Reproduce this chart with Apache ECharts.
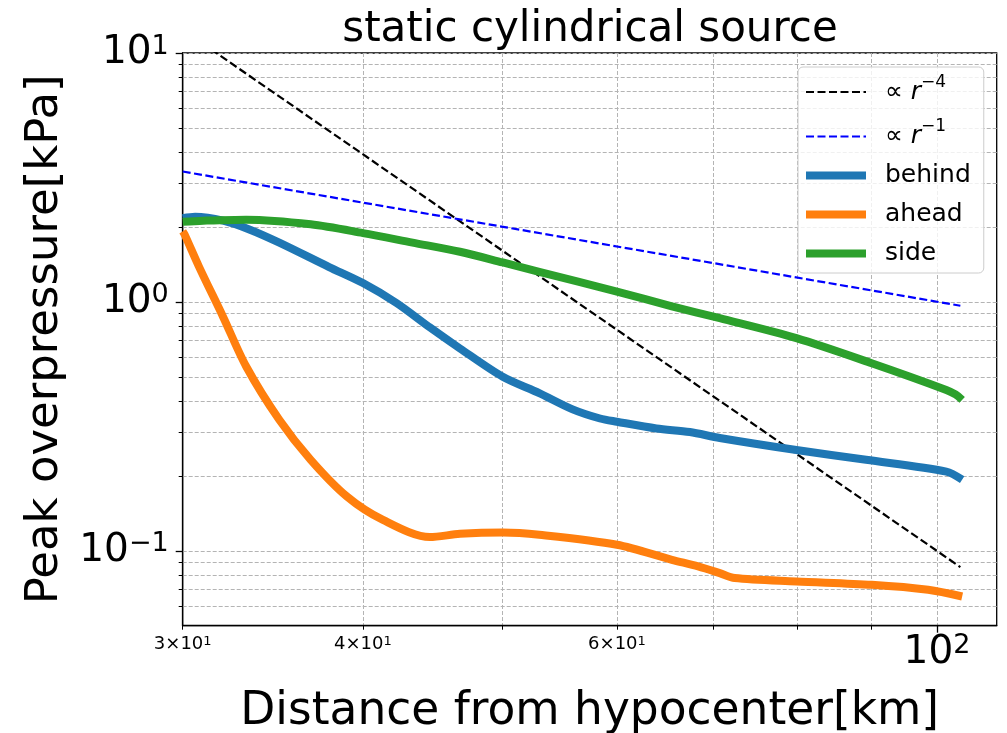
<!DOCTYPE html>
<html>
<head>
<meta charset="UTF-8">
<title>static cylindrical source</title>
<script src="https://cdn.jsdelivr.net/npm/echarts@6/dist/echarts.min.js"></script>
<style>
  html, body { margin: 0; padding: 0; background: #fff; }
  #chart { width: 1007px; height: 733px; }
</style>
</head>
<body>
<div id="chart"></div>
<script>
// values (distance km, overpressure kPa)
var behindX = [30, 30.6, 32.0, 33.4, 35.0, 37.9, 40.0, 42.2, 44.5, 46.7, 50.0, 53.0, 55.9, 58.4, 60.0, 63.9, 67.4, 70.7, 79.9, 89.3, 101.5, 104.1];
var behindY = [2.17, 2.20, 2.12, 1.95, 1.73, 1.38, 1.19, 0.99, 0.79, 0.65, 0.50, 0.43, 0.37, 0.34, 0.33, 0.31, 0.30, 0.284, 0.254, 0.232, 0.208, 0.193];

var aheadX = [30, 30.1, 30.8, 32.0, 33.2, 35.0, 36.8, 39.0, 41.3, 44.5, 46.7, 50.0, 53.0, 60.0, 65.5, 68.3, 70.7, 72.4, 79.9, 90.1, 98.6, 104.1];
var aheadY = [1.92, 1.86, 1.38, 0.87, 0.55, 0.336, 0.232, 0.165, 0.133, 0.1135, 0.117, 0.1185, 0.116, 0.1057, 0.092, 0.0865, 0.0813, 0.0777, 0.0753, 0.0730, 0.0697, 0.0655];

var sideX = [30, 31, 33.2, 36.8, 40, 43.3, 46.7, 50, 53, 60, 65.5, 70.7, 79.9, 90.1, 101.5, 103, 104.1];
var sideY = [2.10, 2.12, 2.14, 2.05, 1.89, 1.73, 1.59, 1.44, 1.32, 1.10, 0.96, 0.86, 0.715, 0.567, 0.443, 0.425, 0.404];

var r4X = [30, 103.8];
var r4Y = [12.4, 0.086];
var r1X = [30, 103.8];
var r1Y = [3.34, 0.965];

var xMinorTicks = [30, 40, 50, 60, 70, 80, 90];
var xMinorLabels = [30, 40, 60];
var xMajorTicks = [100];
var yMinorTicks = [0.06, 0.07, 0.08, 0.09, 0.2, 0.3, 0.4, 0.5, 0.6, 0.7, 0.8, 0.9, 2, 3, 4, 5, 6, 7, 8, 9];
var yMajorTicks = [0.1, 1, 10];

function pairs(xs, ys) {
    return xs.map(function (x, i) { return [x, ys[i]]; });
}
function expText(v) {
    var e = Math.round(Math.log10(v));
    return e < 0 ? '\u2212' + (-e) : String(e);
}

var font = 'DejaVu Sans';
var gridLine = { show: true, lineStyle: { color: '#b4b4b4', width: 1, type: [4, 2] } };
var bigRich = {
    b: { fontSize: 39, lineHeight: 40, fontFamily: font, color: '#000' },
    s: { fontSize: 27, lineHeight: 24, verticalAlign: 'top', fontFamily: font, color: '#000' }
};
var smallRich = {
    n: { fontSize: 18, lineHeight: 20, fontFamily: font, color: '#000' },
    s: { fontSize: 13, lineHeight: 13, verticalAlign: 'top', fontFamily: font, color: '#000' }
};
var legendNames = {
    'r4': '{p|\u221d }{i|r}{s|\u22124}',
    'r1': '{p|\u221d }{i|r}{s|\u22121}'
};
var hideDot = { opacity: 0 };

var chart = echarts.init(document.getElementById('chart'));
chart.setOption({
    animation: false,
    backgroundColor: '#fff',
    textStyle: { fontFamily: font },
    title: {
        text: 'static cylindrical source',
        left: 585, top: 4, textAlign: 'center',
        textStyle: { fontSize: 42, fontWeight: 'normal', color: '#000', fontFamily: font }
    },
    grid: {
        left: 182.7, top: 53, right: 10.3, bottom: 107.3,
        containLabel: false, outerBoundsMode: 'none',
        show: true, borderColor: '#000', borderWidth: 1.3, backgroundColor: 'transparent'
    },
    legend: {
        left: 798, top: 67, orient: 'vertical',
        itemWidth: 60, itemHeight: 8, itemGap: 14,
        padding: [7, 13, 7, 7],
        backgroundColor: 'rgba(255,255,255,0.8)',
        borderColor: '#cccccc', borderWidth: 1, borderRadius: 5,
        selectedMode: false,
        data: [
            { name: 'r4', itemStyle: hideDot },
            { name: 'r1', itemStyle: hideDot },
            { name: 'behind', icon: 'rect' },
            { name: 'ahead', icon: 'rect' },
            { name: 'side', icon: 'rect' }
        ],
        formatter: function (name) {
            return legendNames[name] || '{t|' + name + '}';
        },
        textStyle: {
            padding: [0, 0, 0, 14],
            rich: {
                t: { fontSize: 25, lineHeight: 36, fontFamily: font, color: '#000' },
                p: { fontSize: 25, lineHeight: 36, fontFamily: font, color: '#000' },
                i: { fontSize: 25, lineHeight: 36, fontStyle: 'italic', fontFamily: font, color: '#000' },
                s: { fontSize: 17, lineHeight: 22, verticalAlign: 'top', fontFamily: font, color: '#000' }
            }
        }
    },
    xAxis: [{
        type: 'log', min: 30, max: 110, position: 'bottom',
        name: 'Distance from hypocenter[km]', nameLocation: 'middle', nameGap: 63,
        nameTextStyle: { fontSize: 45.5, color: '#000', fontFamily: font },
        axisLine: { show: true, lineStyle: { color: '#000', width: 1.3 } },
        axisTick: { show: true, length: 4, customValues: xMinorTicks, lineStyle: { color: '#000', width: 1 } },
        axisLabel: {
            customValues: xMinorLabels, margin: 9,
            formatter: function (v) { return '{n|' + Math.round(v / 10) + '\u00d710}{s|1}'; },
            rich: smallRich
        },
        splitLine: gridLine
    }, {
        type: 'log', min: 30, max: 110, position: 'bottom',
        axisLine: { show: false },
        axisTick: { show: true, length: 7, customValues: xMajorTicks, lineStyle: { color: '#000', width: 1.3 } },
        axisLabel: {
            customValues: xMajorTicks, margin: 7,
            formatter: function (v) { return '{b|10}{s|' + expText(v) + '}'; },
            rich: bigRich
        },
        splitLine: gridLine
    }],
    yAxis: [{
        type: 'log', min: 0.05, max: 10, position: 'left',
        name: 'Peak overpressure[kPa]', nameLocation: 'middle', nameGap: 115,
        nameTextStyle: { fontSize: 45, color: '#000', fontFamily: font },
        axisLine: { show: true, lineStyle: { color: '#000', width: 1.3 } },
        axisTick: { show: true, length: 4, customValues: yMinorTicks, lineStyle: { color: '#000', width: 1 } },
        axisLabel: { show: false },
        splitLine: gridLine
    }, {
        type: 'log', min: 0.05, max: 10, position: 'left',
        axisLine: { show: false },
        axisTick: { show: true, length: 7, customValues: yMajorTicks, lineStyle: { color: '#000', width: 1.3 } },
        axisLabel: {
            customValues: yMajorTicks, margin: 14,
            formatter: function (v) { return '{b|10}{s|' + expText(v) + '}'; },
            rich: bigRich
        },
        splitLine: gridLine
    }],
    series: [{
        name: 'r4', type: 'line', data: pairs(r4X, r4Y), showSymbol: false, symbol: 'none',
        lineStyle: { color: '#000', width: 2.2, type: [8, 3.5] }, itemStyle: { color: '#000' }, z: 3
    }, {
        name: 'r1', type: 'line', data: pairs(r1X, r1Y), showSymbol: false, symbol: 'none',
        lineStyle: { color: '#0000ff', width: 2.2, type: [8, 3.5] }, itemStyle: { color: '#0000ff' }, z: 3
    }, {
        name: 'behind', type: 'line', data: pairs(behindX, behindY), showSymbol: false, symbol: 'none',
        smooth: 0.3,
        lineStyle: { color: '#1f77b4', width: 8, join: 'round' }, itemStyle: { color: '#1f77b4' }, z: 4
    }, {
        name: 'ahead', type: 'line', data: pairs(aheadX, aheadY), showSymbol: false, symbol: 'none',
        smooth: 0.3,
        lineStyle: { color: '#ff7f0e', width: 8, join: 'round' }, itemStyle: { color: '#ff7f0e' }, z: 5
    }, {
        name: 'side', type: 'line', data: pairs(sideX, sideY), showSymbol: false, symbol: 'none',
        smooth: 0.3,
        lineStyle: { color: '#2ca02c', width: 8, join: 'round' }, itemStyle: { color: '#2ca02c' }, z: 6
    }]
});
</script>
</body>
</html>
